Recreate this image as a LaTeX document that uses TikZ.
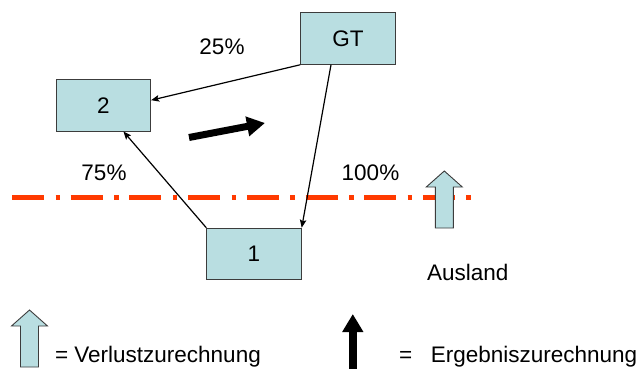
\documentclass[tikz,border=0pt]{standalone}
\usepackage{fontspec}
\setmainfont{Liberation Sans}
\usepackage{xcolor}
\usepackage{tikz}
\usetikzlibrary{arrows.meta}
\definecolor{boxblue}{HTML}{B9DEE1}
\definecolor{boxline}{HTML}{3C3C3C}
\definecolor{borderred}{HTML}{FF3A00}
\newcommand{\fsBody}{\fontsize{22.5}{26}\selectfont}

\tikzset{
  unit/.style={draw=boxline, line width=0.9pt, fill=boxblue, minimum width=94.5pt, minimum height=51.6pt, inner sep=0pt},
  link/.style={line width=1.2pt, -{Stealth[length=8pt, width=6.5pt, inset=1.5pt]}},
  lossarrow/.pic={
    \filldraw[fill=boxblue, draw=boxline, line width=0.9pt]
      (-9,0) -- (-9,-41) -- (-18,-41) -- (0,-57) -- (18,-41) -- (9,-41) -- (9,0) -- cycle;
  }
}

\begin{document}
\begin{tikzpicture}[x=1pt, y=-1pt, every node/.style={font=\fsBody}]
  \useasboundingbox (0,0) rectangle (641,369);

  % border line
  \draw[borderred, line width=4.5pt, dash pattern=on 32pt off 11.5pt on 4.5pt off 10.7pt] (12,197.3) -- (471,197.3);

  % companies
  \node[unit] (gt) at (348,38.5) {GT};
  \node[unit] (two) at (103.4,105.2) {2};
  \node[unit] (one) at (254,254) {1};

  \draw[link] (gt.south west) -- ([yshift=5pt]two.east);
  \draw[link] ([xshift=-17pt]gt.south) -- (one.north east);
  \draw[link] (one.north west) -- ([xshift=20pt]two.south);

  \node[anchor=base] (pctgt) at (222,55) {25\%};
  \node[anchor=base] (pcttwo) at (104,181) {75\%};
  \node[anchor=base] (pctone) at (370.5,181) {100\%};
  \node[anchor=base west, inner sep=0pt] (abroad) at (427,280) {Ausland};

  \draw[line width=7pt, -{Triangle[length=18pt, width=19pt]}] (189,137.5) -- (265,123);
  \pic at (444.3,228) {lossarrow};

  % legend
  \pic at (29.5,367) {lossarrow};
  \node[anchor=base east, inner sep=0pt] (keyloss) at (261,362.7) {= Verlustzurechnung};
  \draw[line width=8pt, -{Triangle[length=18pt, width=20pt]}] (352.8,369) -- (352.8,314);
  \node[anchor=base east, inner sep=0pt] (keyresult) at (637.5,362.7) {=~~~Ergebniszurechnung};
\end{tikzpicture}
\end{document}
